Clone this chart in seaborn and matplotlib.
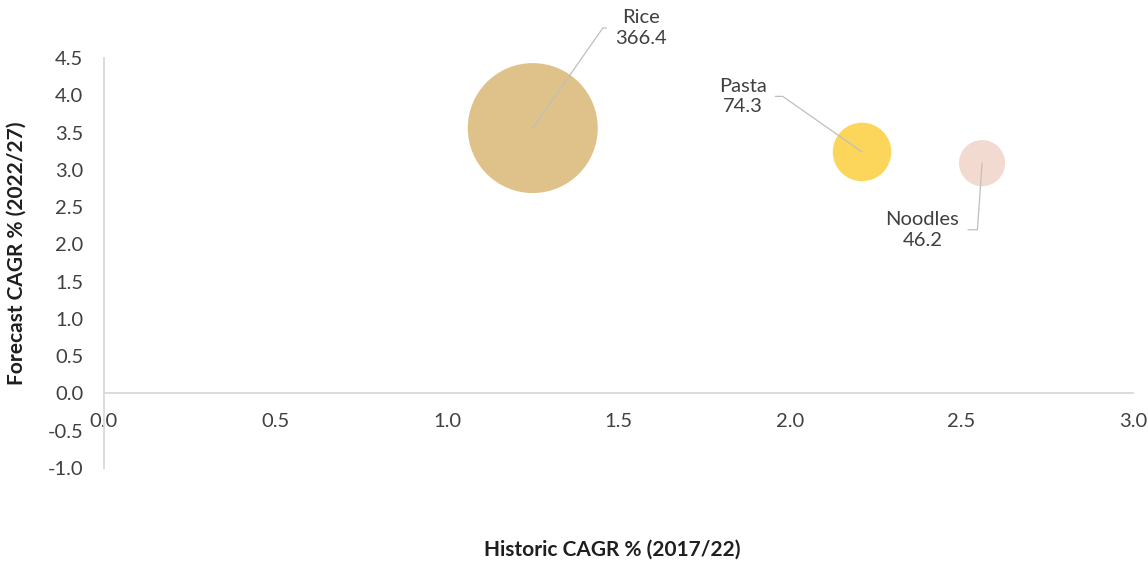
import matplotlib
matplotlib.use("Agg")
import matplotlib.pyplot as plt
import seaborn as sns
import pandas as pd

# ---- data ----
categories = ["Rice", "Pasta", "Noodles"]
historic_cagr = [1.25, 2.21, 2.56]
forecast_cagr = [3.56, 3.24, 3.09]
market_size = [366.4, 74.3, 46.2]
colors = ["#DFC28A", "#FCD55B", "#F3DAD0"]
x_ticks = [0.0, 0.5, 1.0, 1.5, 2.0, 2.5, 3.0]
y_ticks = [-1.0, -0.5, 0.0, 0.5, 1.0, 1.5, 2.0, 2.5, 3.0, 3.5, 4.0, 4.5]
label_offsets = [(78, 72), (-86, 40), (-43, -48)]  # points
label_relpos = [(0.0, 0.5), (1.0, 0.5), (1.0, 0.5)]
label_conn = ["angle,angleA=0,angleB=55,rad=0", "angle,angleA=0,angleB=-35,rad=0",
              "angle,angleA=0,angleB=86,rad=0"]

df = pd.DataFrame({"cat": categories, "x": historic_cagr, "y": forecast_cagr, "size": market_size})

sns.set_theme(style="white")
plt.rcParams["font.family"] = ["Lato", "DejaVu Sans"]

fig = plt.figure(figsize=(11.48, 5.61), dpi=100)
ax = fig.add_axes([104 / 1148, 1 - 468 / 561, (1133 - 104) / 1148, (468 - 58) / 561])

max_s = 8760
sns.scatterplot(data=df, x="x", y="y", hue="cat", size="size",
                palette=dict(zip(categories, colors)),
                sizes=(0, max_s), size_norm=(0, max(market_size)),
                linewidth=0, alpha=1, legend=False, ax=ax, zorder=2)

fs = 14.5
for i, c in enumerate(categories):
    ax.annotate(f"{c}\n{market_size[i]}", xy=(historic_cagr[i], forecast_cagr[i]),
                xytext=label_offsets[i], textcoords="offset points",
                ha="center", va="center", fontsize=fs, color="#404040",
                linespacing=1.25, zorder=3,
                arrowprops=dict(arrowstyle="-", color="#BFBFBF", lw=0.9,
                                relpos=label_relpos[i], shrinkA=4, shrinkB=0,
                                connectionstyle=label_conn[i]))

ax.set_xlim(0, 3.0)
ax.set_ylim(-1.0, 4.5)
ax.set_xticks(x_ticks)
ax.set_yticks(y_ticks)
ax.set_xticklabels([f"{v:.1f}" for v in x_ticks])
ax.set_yticklabels([f"{v:.1f}" for v in y_ticks])

for s in ["top", "right"]:
    ax.spines[s].set_visible(False)
ax.spines["bottom"].set_position(("data", 0))
for s in ["bottom", "left"]:
    ax.spines[s].set_color("#D9D9D9")
    ax.spines[s].set_linewidth(1.3)

ax.tick_params(axis="x", length=0, pad=14, labelsize=fs, labelcolor="#404040")
ax.tick_params(axis="y", length=0, pad=15, labelsize=fs, labelcolor="#404040")
ax.grid(False)

ax.set_xlabel("")
ax.set_ylabel("")
fig.text(612 / 1148, 1 - 550 / 561, "Historic CAGR % (2017/22)", ha="center", va="center",
         fontsize=15, fontweight="bold", color="#1F1F1F")
fig.text(17 / 1148, 1 - 253 / 561, "Forecast CAGR % (2022/27)", ha="center", va="center",
         rotation=90, fontsize=15, fontweight="bold", color="#1F1F1F")

fig.savefig("out.png", dpi=100)
